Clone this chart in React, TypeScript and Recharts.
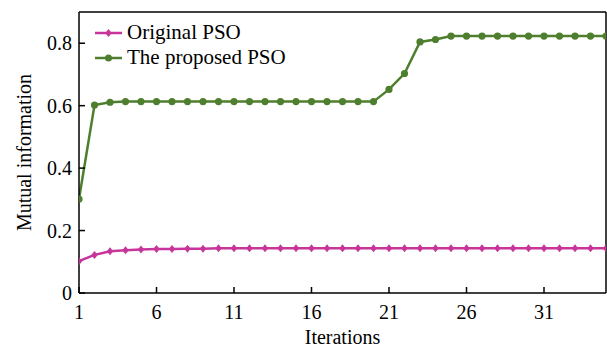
import React from 'react';
import { LineChart, Line, XAxis, YAxis, ReferenceLine, Label } from 'recharts';

const iterations = Array.from({ length: 35 }, (_, i) => i + 1);

const originalPso = [
  0.102, 0.122, 0.134, 0.137, 0.139, 0.141, 0.141, 0.142, 0.142, 0.143,
  0.143, 0.143, 0.143, 0.143, 0.143, 0.143, 0.143, 0.143, 0.143, 0.143,
  0.143, 0.143, 0.143, 0.143, 0.143, 0.143, 0.143, 0.143, 0.143, 0.143,
  0.143, 0.143, 0.143, 0.143, 0.143,
];

const proposedPso = [
  0.301, 0.602, 0.611, 0.613, 0.613, 0.613, 0.613, 0.613, 0.613, 0.613,
  0.613, 0.613, 0.613, 0.613, 0.613, 0.613, 0.613, 0.613, 0.613, 0.613,
  0.652, 0.703, 0.804, 0.812, 0.823, 0.823, 0.823, 0.823, 0.823, 0.823,
  0.823, 0.823, 0.823, 0.823, 0.823,
];

const xTicks = [1, 6, 11, 16, 21, 26, 31];
const yTicks = [0, 0.2, 0.4, 0.6, 0.8];

const MAGENTA = '#c8359a';
const GREEN = '#4e7f2e';
const FONT = '"Liberation Serif", "Times New Roman", serif';

const data = iterations.map((it, i) => ({
  it,
  original: originalPso[i],
  proposed: proposedPso[i],
}));

const Diamond = (props: any) => {
  const { cx, cy } = props;
  if (cx == null || cy == null) return null;
  return <path d={`M${cx},${cy - 4} L${cx + 3.2},${cy} L${cx},${cy + 4} L${cx - 3.2},${cy} Z`} fill={MAGENTA} />;
};

// ticks point inward, so draw them by hand
const renderXTick = (props: any) => {
  const { x, y, payload } = props;
  return (
    <g>
      <line x1={x} x2={x} y1={y - 12} y2={y - 18} stroke="#000" strokeWidth={1.5} />
      <text x={x} y={y} dy="0.71em" textAnchor="middle" fontSize={20} fontFamily={FONT} fill="#000">
        {payload.value}
      </text>
    </g>
  );
};

const renderYTick = (props: any) => {
  const { x, y, payload } = props;
  return (
    <g>
      <line x1={x + 7} x2={x + 13} y1={y} y2={y} stroke="#000" strokeWidth={1.5} />
      <text x={x} y={y} dy="0.355em" textAnchor="end" fontSize={20} fontFamily={FONT} fill="#000">
        {payload.value}
      </text>
    </g>
  );
};

const legendRows = [
  { name: 'Original PSO', color: MAGENTA, diamond: true },
  { name: 'The proposed PSO', color: GREEN, diamond: false },
];

const LegendBox = () => (
  <div
    style={{
      position: 'absolute',
      left: 95,
      top: 20,
      fontFamily: FONT,
      fontSize: 21,
      lineHeight: '25px',
      color: '#000',
    }}
  >
    {legendRows.map((r) => (
      <div key={r.name} style={{ display: 'flex', alignItems: 'center', whiteSpace: 'nowrap' }}>
        <svg width={32} height={12}>
          <line x1={0} x2={27} y1={6} y2={6} stroke={r.color} strokeWidth={2.5} />
          {r.diamond ? (
            <path d="M13.5,2 L16.7,6 L13.5,10 L10.3,6 Z" fill={r.color} />
          ) : (
            <circle cx={13.5} cy={6} r={3.5} fill={r.color} />
          )}
        </svg>
        <span>{r.name}</span>
      </div>
    ))}
  </div>
);

export default function App() {
  return (
    <div style={{ position: 'absolute', left: 0, top: 0, width: 607, height: 347, background: '#fff' }}>
      <LineChart width={607} height={347} data={data} margin={{ top: 12, right: 1, bottom: 0, left: 0 }}>
        <XAxis
          dataKey="it"
          type="number"
          domain={[1, 35]}
          ticks={xTicks}
          allowDataOverflow
          height={54}
          tickSize={0}
          tickMargin={12}
          tick={renderXTick}
          axisLine={{ stroke: '#000', strokeWidth: 1.5 }}
          tickLine={false}
        >
          <Label value="Iterations" position="insideBottom" offset={3} fontSize={20} fontFamily={FONT} fill="#000" />
        </XAxis>
        <YAxis
          type="number"
          domain={[0, 0.9]}
          ticks={yTicks}
          allowDataOverflow
          width={79}
          tickSize={0}
          tickMargin={7}
          tick={renderYTick}
          axisLine={{ stroke: '#000', strokeWidth: 1.5 }}
          tickLine={false}
        >
          <Label
            value="Mutual information"
            angle={-90}
            position="insideLeft"
            offset={0}
            dx={24}
            fontSize={20}
            fontFamily={FONT}
            fill="#000"
            style={{ textAnchor: 'middle' }}
          />
        </YAxis>
        <ReferenceLine y={0.9} stroke="#000" strokeWidth={1.5} />
        <ReferenceLine x={35} stroke="#000" strokeWidth={1.5} />
        <Line
          dataKey="original"
          stroke={MAGENTA}
          strokeWidth={2.5}
          dot={<Diamond />}
          activeDot={false}
          isAnimationActive={false}
        />
        <Line
          dataKey="proposed"
          stroke={GREEN}
          strokeWidth={2.5}
          dot={{ r: 3.6, fill: GREEN, stroke: GREEN, strokeWidth: 0 }}
          activeDot={false}
          isAnimationActive={false}
        />
      </LineChart>
      <LegendBox />
    </div>
  );
}
